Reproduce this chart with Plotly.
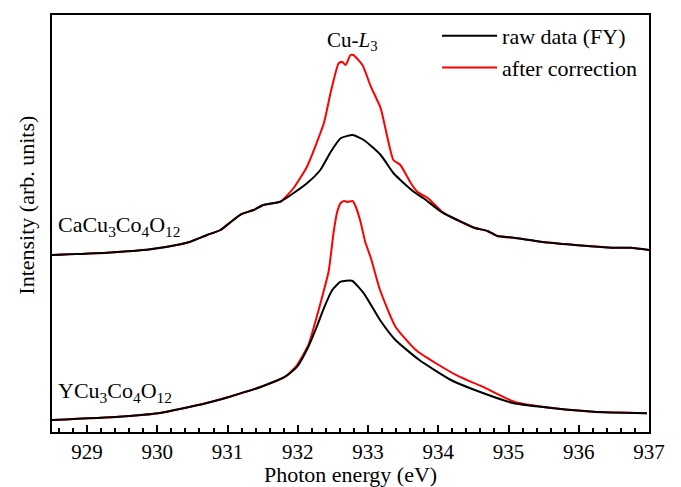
import plotly.graph_objects as go

# ---- data ----
ca_raw_e = [928.5, 929.28, 929.9, 930.33, 930.47, 930.71, 930.9, 931.05, 931.19, 931.37, 931.51,
            931.75, 931.9, 932.13, 932.32, 932.47, 932.61, 932.78, 932.94, 933.18, 933.36, 933.46,
            933.65, 933.79, 934.06, 934.27, 934.51, 934.70, 934.84, 935.07, 935.46, 935.84,
            936.13, 936.46, 936.74, 937.0]
ca_raw_i = [1.77, 1.793, 1.827, 1.877, 1.903, 1.97, 2.02, 2.103, 2.177, 2.22, 2.27,
            2.303, 2.37, 2.487, 2.62, 2.803, 2.937, 2.97, 2.92, 2.77, 2.59, 2.52,
            2.403, 2.337, 2.193, 2.12, 2.043, 2.01, 1.96, 1.943, 1.903, 1.877,
            1.86, 1.843, 1.843, 1.82]

ca_corr_e = [928.5, 929.28, 929.9, 930.33, 930.47, 930.71, 930.9, 931.05, 931.19, 931.37, 931.51,
             931.75, 931.94, 932.13, 932.37, 932.47, 932.58, 932.63, 932.68, 932.75, 932.79,
             932.92, 933.04, 933.18, 933.36, 933.46, 933.61, 933.70, 933.85, 934.06, 934.27,
             934.51, 934.70, 934.84, 935.07, 935.46, 935.84, 936.13, 936.46, 936.74, 937.0]
ca_corr_i = [1.77, 1.793, 1.827, 1.877, 1.903, 1.97, 2.02, 2.103, 2.177, 2.22, 2.27,
             2.303, 2.44, 2.653, 3.087, 3.403, 3.687, 3.703, 3.67, 3.77, 3.77,
             3.67, 3.453, 3.237, 2.72, 2.67, 2.487, 2.403, 2.34, 2.20, 2.12,
             2.043, 2.01, 1.96, 1.943, 1.903, 1.877, 1.86, 1.843, 1.843, 1.82]

y_raw_e = [928.5, 929.45, 930.01, 930.69, 931.03, 931.48, 931.82, 931.99, 932.15, 932.27, 932.38,
           932.49, 932.61, 932.77, 932.94, 933.17, 933.39, 933.73, 934.18, 934.52, 935.08,
           935.65, 936.21, 936.97]
y_raw_i = [0.12, 0.153, 0.187, 0.287, 0.353, 0.453, 0.553, 0.653, 0.853, 1.053, 1.253,
           1.42, 1.503, 1.513, 1.387, 1.12, 0.92, 0.72, 0.52, 0.42, 0.287,
           0.237, 0.203, 0.187]

y_corr_e = [928.5, 929.45, 930.01, 930.69, 931.03, 931.48, 931.82, 931.99, 932.15, 932.27, 932.38,
            932.44, 932.51, 932.56, 932.61, 932.66, 932.71, 932.78, 932.82, 932.89, 932.96,
            933.04, 933.17, 933.39, 933.68, 933.96, 934.3, 934.63, 935.08, 935.65, 936.21, 936.97]
y_corr_i = [0.12, 0.153, 0.187, 0.287, 0.353, 0.453, 0.553, 0.67, 0.87, 1.153, 1.44,
            1.61, 2.00, 2.20, 2.29, 2.31, 2.30, 2.31, 2.26, 2.11, 1.90,
            1.74, 1.42, 1.053, 0.82, 0.69, 0.553, 0.453, 0.303, 0.237, 0.203, 0.187]

x_ticks = [929, 930, 931, 932, 933, 934, 935, 936, 937]
x_range = [928.5, 937]
y_range = [0, 4.17]

FONT = "Liberation Serif"
RED = "#ff0000"
BLACK = "#000000"

LINE = dict(width=2, shape="spline", smoothing=0.5)

fig = go.Figure()
# corrected (red) first, raw (black) on top
fig.add_trace(go.Scatter(x=ca_corr_e, y=ca_corr_i, mode="lines",
                         line=dict(color=RED, **LINE), showlegend=False))
fig.add_trace(go.Scatter(x=y_corr_e, y=y_corr_i, mode="lines",
                         line=dict(color=RED, **LINE), showlegend=False))
fig.add_trace(go.Scatter(x=ca_raw_e, y=ca_raw_i, mode="lines",
                         line=dict(color=BLACK, **LINE), name="raw data (FY)",
                         legendrank=1))
fig.add_trace(go.Scatter(x=y_raw_e, y=y_raw_i, mode="lines",
                         line=dict(color=BLACK, **LINE), showlegend=False))
# legend entry for red
fig.add_trace(go.Scatter(x=[None], y=[None], mode="lines",
                         line=dict(color=RED, width=2), name="after correction",
                         legendrank=2))

ANN_FONT = dict(family=FONT, size=22, color=BLACK)
fig.add_annotation(x=928.55, y=2.06, xref="x", yref="y",
                   text="CaCu<sub>3</sub>Co<sub>4</sub>O<sub>12</sub>",
                   showarrow=False, xanchor="left", yanchor="middle", font=ANN_FONT)
fig.add_annotation(x=928.55, y=0.40, xref="x", yref="y",
                   text="YCu<sub>3</sub>Co<sub>4</sub>O<sub>12</sub>",
                   showarrow=False, xanchor="left", yanchor="middle", font=ANN_FONT)
fig.add_annotation(x=932.78, y=3.91, xref="x", yref="y",
                   text="Cu-<i>L</i><sub>3</sub>",
                   showarrow=False, xanchor="center", yanchor="middle",
                   font=dict(family=FONT, size=21, color=BLACK))
# axis titles
fig.add_annotation(x=0.5, y=-0.102, xref="paper", yref="paper",
                   text="Photon energy (eV)", showarrow=False,
                   xanchor="center", yanchor="middle",
                   font=dict(family=FONT, size=22, color=BLACK))
fig.add_annotation(x=-0.042, y=0.545, xref="paper", yref="paper",
                   text="Intensity (arb. units)", showarrow=False, textangle=-90,
                   xanchor="center", yanchor="middle",
                   font=dict(family=FONT, size=22, color=BLACK))

fig.update_layout(
    width=681, height=487,
    margin=dict(l=52, r=32, t=15, b=55),
    paper_bgcolor="white", plot_bgcolor="white",
    font=dict(family=FONT, size=20, color=BLACK),
    legend=dict(x=0.645, y=1.0, xanchor="left", yanchor="top",
                bgcolor="rgba(0,0,0,0)", font=dict(family=FONT, size=22, color=BLACK),
                itemwidth=55, tracegroupgap=0),
    xaxis=dict(range=x_range, tickvals=x_ticks, ticktext=[str(v) for v in x_ticks],
               ticks="inside", ticklen=7, tickwidth=1.5, tickcolor=BLACK,
               ticklabelstandoff=0, automargin=False,
               minor=dict(dtick=0.2, ticks="inside", ticklen=4, tickwidth=1.5, tickcolor=BLACK),
               showline=True, linewidth=2, linecolor=BLACK, mirror=True,
               showgrid=False, zeroline=False,
               tickfont=dict(family=FONT, size=21, color=BLACK)),
    yaxis=dict(range=y_range, showticklabels=False, ticks="", automargin=False,
               showline=True, linewidth=2, linecolor=BLACK, mirror=True,
               showgrid=False, zeroline=False),
)

fig.write_html("out.html")
